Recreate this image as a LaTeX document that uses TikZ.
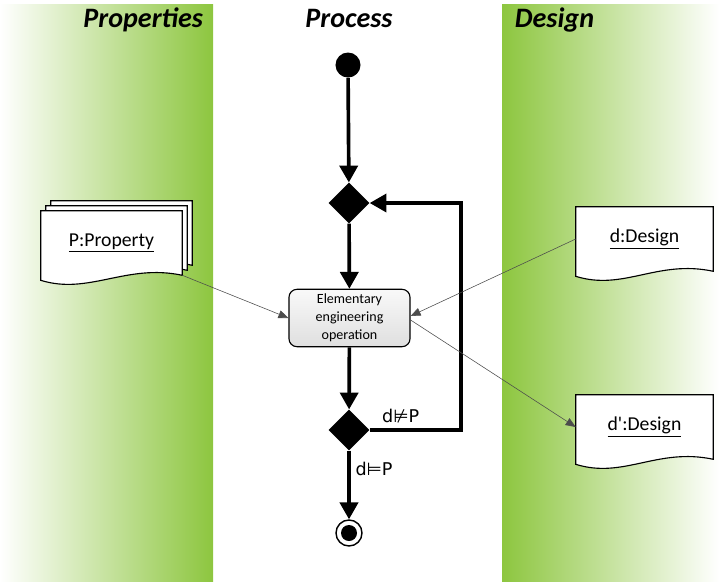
\documentclass[tikz,border=0pt]{standalone}
\usepackage{fontspec}
\setmainfont{Carlito}
\newfontfamily\symfont{DejaVu Sans}
\usetikzlibrary{arrows.meta,shapes.geometric,backgrounds}

\definecolor{bandgreen}{RGB}{141,198,63}

% document outline (wavy bottom) around an existing node
\newcommand{\docpage}[1]{%
  \path[docline] (#1.north west) -- (#1.north east) -- (#1.south east)
    .. controls ([xshift=-1.4cm,yshift=0.3cm]#1.south east)
            and ([xshift=1.2cm,yshift=-0.5cm]#1.south west)
    .. ([yshift=-0.125cm]#1.south west) -- cycle;}

\begin{document}
\begin{tikzpicture}[
x=0.025cm, y=-0.025cm,
flow/.style={line width=2.6pt,-{Triangle[length=0.42cm,width=0.45cm]}},
link/.style={thin,draw=gray!60!black,-{Triangle[length=0.25cm,width=0.2cm]}},
title/.style={font=\fontsize{20}{24}\selectfont\bfseries\itshape},
decision/.style={diamond,fill=black,inner sep=0pt,minimum width=1.02cm,minimum height=1.02cm},
action/.style={rectangle,rounded corners=0.2cm,draw,thick,top color=gray!5,bottom color=gray!25,
  minimum width=3.025cm,minimum height=1.35cm,align=center,font=\fontsize{10}{12.8}\selectfont},
doc/.style={rectangle,minimum height=1.6cm,inner sep=0pt,font=\fontsize{14}{16}\selectfont},
docline/.style={draw=black,fill=white,line width=0.8pt},
guard/.style={font=\symfont\fontsize{12.5}{15}\selectfont}
]
    \useasboundingbox (0,0) rectangle (719,581);

    % swimlanes
    \begin{scope}[on background layer]
    \shade[left color=white,right color=bandgreen] (0,4) rectangle (213,581);
    \shade[left color=bandgreen,right color=white] (502,4) rectangle (719,581);
    \end{scope}

    \node[title,anchor=base east] (tprop) at (208,27) {Properties};
    \node[title,anchor=base] (tproc) at (349,27) {Process};
    \node[title,anchor=base west] (tdsg) at (510,27) {Design};

    % activity flow
    \node[circle,fill=black,minimum size=0.625cm,inner sep=0pt] (start) at (348,65) {};
    \node[decision] (dec1) at (349,203) {};
    \node[action] (op) at (349.5,318) {Elementary\\engineering\\operation};
    \node[decision] (dec2) at (349,430) {};
    \node[circle,draw,line width=1pt,fill=white,minimum size=0.65cm,inner sep=0pt] (stop) at (349,533) {};
    \fill (stop.center) circle (0.2cm);

    % objects
    \node[doc,minimum width=3.525cm] (prop3) at (121.5,233) {};
    \node[doc,minimum width=3.525cm] (prop2) at (116.5,238) {};
    \node[doc,minimum width=3.525cm] (prop) at (111.5,243) {\underline{P:Property}};
    \node[doc,minimum width=3.425cm] (dsg) at (644.5,239) {\underline{d:Design}};
    \node[doc,minimum width=3.425cm] (dsgnew) at (644.5,427) {\underline{d\textquotesingle:Design}};

    \begin{scope}[on background layer]
    \docpage{prop3}
    \docpage{prop2}
    \docpage{prop}
    \docpage{dsg}
    \docpage{dsgnew}
    \end{scope}

    \draw[flow] (start) -- (dec1);
    \draw[flow] (dec1) -- (op);
    \draw[flow] (op) -- (dec2);
    \draw[flow] (dec2) -- node[guard,right,pos=0.26]{d⊨P} (stop);
    \draw[flow] (dec2.east) -- node[guard,above,pos=0.34]{d⊭P} ++(91,0) |- (dec1.east);

    \draw[link] (prop.south east) -- (op.west);
    \draw[link] (dsg.west) -- ([yshift=0.05cm]op.east);
    \draw[link] ([yshift=-0.05cm]op.east) -- (dsgnew.west);

\end{tikzpicture}
\end{document}
